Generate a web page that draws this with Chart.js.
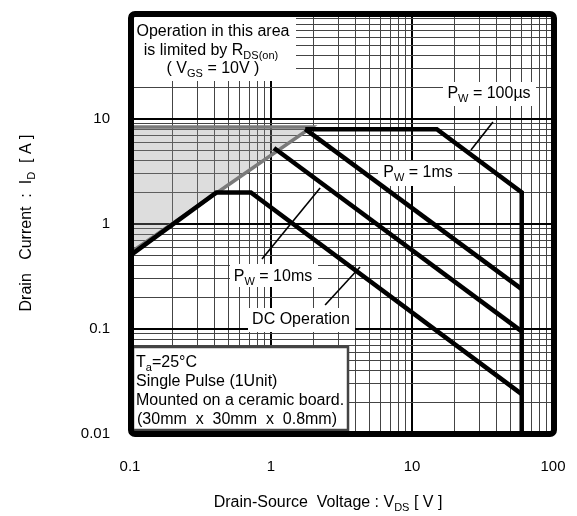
<!DOCTYPE html>
<html>
<head>
<meta charset="utf-8">
<script src="https://cdn.jsdelivr.net/npm/chart.js@4.4.0/dist/chart.umd.min.js"></script>
<style>
  html, body { margin: 0; padding: 0; background: #fff; }
</style>
</head>
<body>
<canvas id="soa" width="577" height="516"></canvas>
<script>
const FONT = '"Liberation Sans", Arial, Helvetica, sans-serif';

// tick labels
const xTickValues = [0.1, 1, 10, 100];
const xTickLabels = ['0.1', '1', '10', '100'];
const yTickValues = [0.01, 0.1, 1, 10];
const yTickLabels = ['0.01', '0.1', '1', '10'];

// safe operating area boundaries, V_DS [V] / I_D [A]
const rdsV = [0.1, 0.1, 1.95, 0.1];
const rdsI = [0.53, 8.4, 8.4, 0.53];
const pw100usV = [1.75, 15, 60, 60];
const pw100usI = [8, 8, 2, 0.01];
const pw1msV = [1.75, 60];
const pw1msI = [8, 0.24];
const pw10msV = [1.05, 60];
const pw10msI = [5.3, 0.095];
const dcV = [0.1, 0.41, 0.72, 60];
const dcI = [0.5, 2, 2, 0.024];

// leader lines from the labels to their curves
const lead100usV = [37.5, 26.2];
const lead100usI = [9.36, 5.07];
const lead10msV = [0.863, 2.23];
const lead10msI = [0.464, 2.2];
const leadDcV = [2.42, 4.28];
const leadDcI = [0.169, 0.389];

const pts = (xs, ys) => xs.map((x, i) => ({ x: x, y: ys[i] }));

function logTicks(min, max) {
  const out = [];
  for (let e = Math.round(Math.log10(min)); e < Math.round(Math.log10(max)); e++) {
    for (let m = 1; m < 10; m++) out.push(m * Math.pow(10, e));
  }
  out.push(max);
  return out.map(v => ({ value: v }));
}
const isDecade = v => Math.abs(Math.log10(v) - Math.round(Math.log10(v))) < 1e-6;
const labelFor = (vals, labels) => v => {
  const i = vals.findIndex(t => Math.abs(t - v) / t < 1e-6);
  return i >= 0 ? labels[i] : '';
};

// text with _{sub} parts
function rich(ctx, str, x, y, align, size) {
  const parts = str.split(/_\{([^}]*)\}/);
  const main = size + 'px ' + FONT;
  const small = Math.round(size * 0.7) + 'px ' + FONT;
  let w = 0;
  parts.forEach((t, i) => { ctx.font = i % 2 ? small : main; w += ctx.measureText(t).width; });
  let cx = align === 'center' ? x - w / 2 : x;
  ctx.textAlign = 'left';
  ctx.textBaseline = 'alphabetic';
  ctx.fillStyle = '#000';
  parts.forEach((t, i) => {
    ctx.font = i % 2 ? small : main;
    ctx.fillText(t, cx, i % 2 ? y + size * 0.25 : y);
    cx += ctx.measureText(t).width;
  });
}

function box(ctx, x, y, w, h) {
  ctx.fillStyle = '#fff';
  ctx.fillRect(x, y, w, h);
}

const soaDecor = {
  id: 'soaDecor',
  beforeDatasetsDraw(chart) {
    const ctx = chart.ctx;
    ctx.save();
    box(ctx, 130, 14, 166, 67);
    rich(ctx, 'Operation in this area', 213, 36, 'center', 16);
    rich(ctx, 'is limited by R_{DS(on)}', 211, 55, 'center', 16);
    rich(ctx, '( V_{GS} = 10V )', 213, 73, 'center', 16);

    box(ctx, 443, 82, 93, 24);
    rich(ctx, 'P_{W} = 100µs', 489, 98, 'center', 16);
    box(ctx, 378, 161, 80, 25);
    rich(ctx, 'P_{W} = 1ms', 418, 177, 'center', 16);
    box(ctx, 230, 264, 88, 23);
    rich(ctx, 'P_{W} = 10ms', 273, 281, 'center', 16);
    box(ctx, 248, 308, 107, 24);
    rich(ctx, 'DC Operation', 301, 324, 'center', 16);

    box(ctx, 133, 347, 215, 84);
    ctx.strokeStyle = '#444';
    ctx.lineWidth = 2.5;
    ctx.strokeRect(133, 347, 215, 83);
    rich(ctx, 'T_{a}=25°C', 136, 367, 'left', 16);
    rich(ctx, 'Single Pulse (1Unit)', 136, 386, 'left', 16);
    rich(ctx, 'Mounted on a ceramic board.', 136, 405, 'left', 16);
    rich(ctx, '(30mm  x  30mm  x  0.8mm)', 137, 424, 'left', 16);
    ctx.restore();
  },
  afterDraw(chart) {
    const ctx = chart.ctx;
    const ca = chart.chartArea;
    ctx.save();
    ctx.strokeStyle = '#000';
    ctx.lineWidth = 6;
    ctx.beginPath();
    if (ctx.roundRect) ctx.roundRect(ca.left + 1, ca.top, ca.right - ca.left, ca.bottom - ca.top, 4);
    else ctx.rect(ca.left + 1, ca.top, ca.right - ca.left, ca.bottom - ca.top);
    ctx.stroke();

    rich(ctx, 'Drain-Source  Voltage : V_{DS} [ V ]', 328, 507, 'center', 16);
    ctx.translate(31, 223);
    ctx.rotate(-Math.PI / 2);
    rich(ctx, 'Drain   Current  :  I_{D}  [ A ]', 0, 0, 'center', 16);
    ctx.restore();
  }
};

const curve = (xs, ys) => ({
  data: pts(xs, ys),
  borderColor: '#000',
  borderWidth: 4.5,
  pointRadius: 0,
  fill: false,
  borderJoinStyle: 'miter',
  order: 1
});
const leader = (xs, ys) => ({
  data: pts(xs, ys),
  borderColor: '#000',
  borderWidth: 1.6,
  pointRadius: 0,
  fill: false,
  order: 2
});

new Chart(document.getElementById('soa'), {
  type: 'line',
  data: {
    datasets: [
      {
        data: pts(rdsV, rdsI),
        borderColor: '#7a7a7a',
        borderWidth: 3.5,
        backgroundColor: 'rgba(150,150,150,0.32)',
        pointRadius: 0,
        fill: 'shape',
        order: 5
      },
      curve(pw100usV, pw100usI),
      curve(pw1msV, pw1msI),
      curve(pw10msV, pw10msI),
      curve(dcV, dcI),
      leader(lead100usV, lead100usI),
      leader(lead10msV, lead10msI),
      leader(leadDcV, leadDcI)
    ]
  },
  options: {
    responsive: false,
    animation: false,
    layout: { padding: { left: 0, top: 14, right: 24, bottom: 0 } },
    plugins: { legend: { display: false }, tooltip: { enabled: false } },
    scales: {
      x: {
        type: 'logarithmic',
        min: 0.1,
        max: 100,
        afterBuildTicks: s => { s.ticks = logTicks(0.1, 100); },
        afterFit: s => { s.height = 82; s.paddingLeft = 0; s.paddingRight = 0; },
        border: { display: false },
        grid: {
          drawTicks: false,
          color: c => (c.tick && isDecade(c.tick.value)) ? '#000' : '#444',
          lineWidth: c => (c.tick && isDecade(c.tick.value)) ? 2 : 1
        },
        ticks: {
          autoSkip: false,
          maxRotation: 0,
          padding: 24,
          color: '#000',
          font: { family: FONT, size: 15 },
          callback: labelFor(xTickValues, xTickLabels)
        }
      },
      y: {
        type: 'logarithmic',
        min: 0.01,
        max: 100,
        afterBuildTicks: s => { s.ticks = logTicks(0.01, 100); },
        afterFit: s => { s.width = 130; s.paddingTop = 0; s.paddingBottom = 0; },
        border: { display: false },
        grid: {
          drawTicks: false,
          color: c => (c.tick && isDecade(c.tick.value)) ? '#000' : '#444',
          lineWidth: c => (c.tick && isDecade(c.tick.value)) ? 2 : 1
        },
        ticks: {
          autoSkip: false,
          padding: 20,
          color: '#000',
          font: { family: FONT, size: 15 },
          callback: labelFor(yTickValues, yTickLabels)
        }
      }
    }
  },
  plugins: [soaDecor]
});
</script>
</body>
</html>
